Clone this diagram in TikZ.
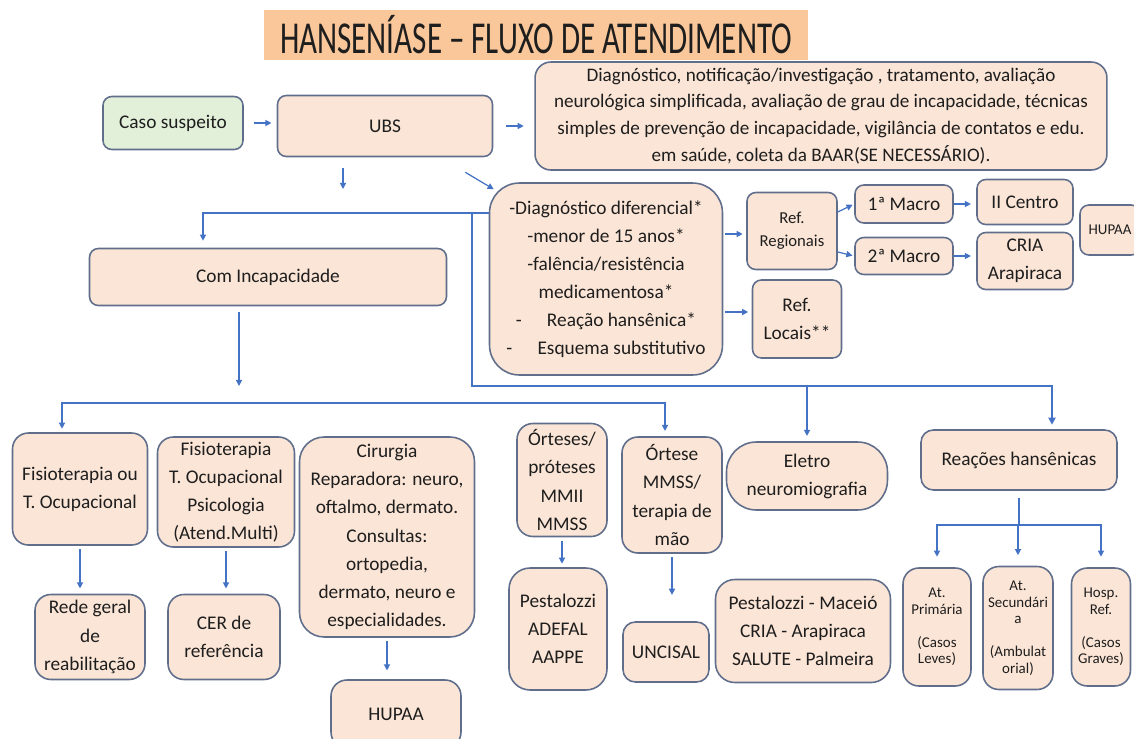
\documentclass[tikz,border=0pt]{standalone}
\usepackage{fontspec}
\setmainfont{Carlito}
\usepackage{graphicx}
\usetikzlibrary{arrows.meta,positioning,calc}
\definecolor{peach}{RGB}{251,229,214}
\definecolor{mint}{RGB}{226,240,217}
\definecolor{apricot}{RGB}{249,199,154}
\definecolor{edge}{RGB}{96,110,140}
\definecolor{wire}{RGB}{68,114,196}
\definecolor{ink}{RGB}{30,30,30}
\tikzset{
  box/.style={draw=edge,fill=peach,line width=0.9pt,rounded corners=5pt,align=center,text=ink,inner sep=1pt,font=\fontsize{11}{16}\selectfont},
  smalltext/.style={font=\fontsize{8.5}{9.5}\selectfont},
  link/.style={draw=wire,line width=0.7pt},
  arr/.style={link,-{Triangle[length=3.5pt,width=3.5pt]}},
  trunk/.style={draw=wire,line width=1.3pt,-{Triangle[length=4pt,width=4pt]}},
}

\begin{document}
\begin{tikzpicture}[x=0.02cm,y=-0.02cm]
  \clip (0,0) rectangle (1134,738);
  \node[fill=apricot,minimum width=10.88cm,minimum height=0.96cm,text=ink] (title) at (536,35) {\fontsize{26}{30}\selectfont\scalebox{0.68}[1]{HANSENÍASE – FLUXO DE ATENDIMENTO}};

  % entrada
  \node[box,fill=mint,minimum width=2.8cm,minimum height=1.06cm] (caso) at (173,123) {Caso suspeito};
  \node[box,minimum width=4.3cm,minimum height=1.22cm] (ubs) at (385,126) {UBS};
  \node[box,rounded corners=9pt,minimum width=11.44cm,minimum height=2.16cm,font=\fontsize{10.9}{15.3}\selectfont] (info) at (821,116) {Diagnóstico, notificação/investigação , tratamento, avaliação\\neurológica simplificada, avaliação de grau de incapacidade, técnicas\\simples de prevenção de incapacidade, vigilância de contatos e edu.\\em saúde, coleta da BAAR(SE NECESSÁRIO).};
  \draw[arr,shorten <=6pt,shorten >=3pt] (caso.east) -- (ubs.west |- caso.east);
  \draw[arr,shorten <=7pt,shorten >=6pt] (ubs.east) -- (info.west |- ubs.east);
  \coordinate (ubsdown) at (343,189);
  \draw[arr,shorten <=6pt] (ubs.south -| ubsdown) -- (ubsdown);

  % referencias
  \node[box,rounded corners=17pt,minimum width=4.66cm,minimum height=3.84cm] (diag) at (606,279) {-Diagnóstico diferencial*\\-menor de 15 anos*\\-falência/resistência\\medicamentosa*\\-\hspace{1.3em}Reação hansênica*\\-\hspace{1.3em}Esquema substitutivo};
  \draw[arr] ([shift={(-28,15)}]ubs.south east) -- ([shift={(5,7)}]diag.north west);
  \node[box,minimum width=1.8cm,minimum height=1.54cm,font=\fontsize{9.5}{13}\selectfont] (refreg) at (792,231) {Ref.\\Regionais};
  \node[box,minimum width=1.78cm,minimum height=1.56cm] (refloc) at (797,319) {Ref.\\Locais**};
  \node[box,minimum width=1.96cm,minimum height=0.76cm] (macro1) at (904,204) {1ª Macro};
  \node[box,minimum width=1.96cm,minimum height=0.74cm] (macro2) at (904,256) {2ª Macro};
  \node[box,minimum width=1.92cm,minimum height=0.9cm] (centro) at (1025,202) {II Centro};
  \node[box,minimum width=1.92cm,minimum height=1.14cm] (cria) at (1025,261) {CRIA\\Arapiraca};
  \node[box,smalltext,minimum width=1.2cm,minimum height=1.0cm] (hupaa) at (1110,230) {HUPAA};
  \draw[arr,shorten <=1pt,shorten >=2pt] (diag.east |- 0,234) -- (refreg.west |- 0,234);
  \draw[arr,shorten <=1pt,shorten >=2pt] (diag.east |- 0,312) -- (refloc.west |- 0,312);
  \draw[arr,shorten >=1pt] (refreg.east |- 0,212) -- (macro1.west);
  \draw[arr,shorten >=1pt] (refreg.east |- 0,252) -- (macro2.west);
  \draw[arr,shorten >=3pt] (macro1.east) -- (centro.west |- macro1.east);
  \draw[arr,shorten >=3pt] (macro2.east) -- (cria.west |- macro2.east);

  % com incapacidade
  \node[box,minimum width=7.14cm,minimum height=1.14cm] (cominc) at (268,277) {Com Incapacidade};
  \coordinate (split) at (472,213);
  \draw[arr,shorten >=4pt] (diag.west |- split) -| (cominc.north -| 203,0);
  \draw[trunk,shorten >=3pt] (split) -- (split |- 0,386) -| (1052,430);
  \coordinate (incdown) at (239,386);
  \draw[arr,shorten <=3pt] (cominc.south -| incdown) -- (incdown);

  % segundo nivel
  \node[box,rounded corners=9pt,minimum width=2.7cm,minimum height=2.24cm] (fisio1) at (80,489) {Fisioterapia ou\\T. Ocupacional};
  \node[box,rounded corners=9pt,minimum width=2.74cm,minimum height=2.2cm] (fisio2) at (226,492) {Fisioterapia\\T. Ocupacional\\Psicologia\\(Atend.Multi)};
  \node[box,rounded corners=14pt,minimum width=3.5cm,minimum height=4.0cm] (cirurgia) at (387,537) {Cirurgia\\Reparadora: neuro,\\oftalmo, dermato.\\Consultas:\\ortopedia,\\dermato, neuro e\\especialidades.};
  \node[box,rounded corners=9pt,minimum width=1.8cm,minimum height=2.26cm] (ortese1) at (562,480) {Órteses/\\próteses\\MMII\\MMSS};
  \node[box,rounded corners=9pt,minimum width=2.0cm,minimum height=2.32cm] (ortese2) at (672,495) {Órtese\\MMSS/\\terapia de\\mão};
  \node[box,rounded corners=17pt,minimum width=3.22cm,minimum height=1.36cm] (eletro) at (807,476) {Eletro\\neuromiografia};
  \node[box,rounded corners=7pt,minimum width=3.92cm,minimum height=1.2cm] (reac) at (1019,460) {Reações hansênicas};
  \coordinate (bar) at (360,403);
  \draw[arr,shorten >=2pt] (bar) -| (fisio1.north -| 62,0);
  \draw[arr,shorten >=3pt] (bar) -| (ortese2.north -| 665,0);
  \draw[arr,shorten >=3pt] (eletro.north |- 0,386) -- (eletro.north);

  % terceiro nivel
  \node[box,rounded corners=9pt,minimum width=2.2cm,minimum height=1.7cm] (rede) at (90,637) {Rede geral\\de\\reabilitação};
  \node[box,rounded corners=9pt,minimum width=2.24cm,minimum height=1.7cm] (cer) at (224,637) {CER de\\referência};
  \node[box,rounded corners=9pt,minimum width=2.6cm,minimum height=1.36cm] (hupaab) at (396,714) {HUPAA};
  \node[box,rounded corners=12pt,minimum width=1.96cm,minimum height=2.44cm] (pest1) at (558,629) {Pestalozzi\\ADEFAL\\AAPPE};
  \node[box,rounded corners=7pt,minimum width=1.72cm,minimum height=1.2cm] (uncisal) at (666,652) {UNCISAL};
  \node[box,rounded corners=11pt,minimum width=3.5cm,minimum height=2.06cm] (pest2) at (803,631) {Pestalozzi - Maceió\\CRIA - Arapiraca\\SALUTE - Palmeira};
  \foreach \a/\b/\g in {fisio1/rede/3pt, fisio2/cer/3pt, cirurgia/hupaab/5pt, ortese1/pest1/2pt, ortese2/uncisal/15pt}
    \draw[arr,shorten <=2pt,shorten >=\g] (\a.south) -- (\b.north -| \a.south);

  % reacoes
  \node[box,smalltext,rounded corners=9pt,minimum width=1.36cm,minimum height=2.36cm] (atp) at (937,627) {At.\\Primária\\[9pt](Casos\\Leves)};
  \node[box,smalltext,rounded corners=9pt,minimum width=1.4cm,minimum height=2.46cm] (ats) at (1018,628) {At.\\Secundári\\a\\[9pt](Ambulat\\orial)};
  \node[box,smalltext,rounded corners=9pt,minimum width=1.18cm,minimum height=2.36cm] (hosp) at (1101,627) {Hosp.\\Ref.\\[9pt](Casos\\Graves)};
  \coordinate (rbar) at (1019,525);
  \draw[link,shorten <=4pt] (reac.south) -- (rbar);
  \foreach \b in {atp,ats,hosp}
    \draw[arr,shorten >=6pt] (rbar) -| (\b.north);
\end{tikzpicture}
\end{document}
